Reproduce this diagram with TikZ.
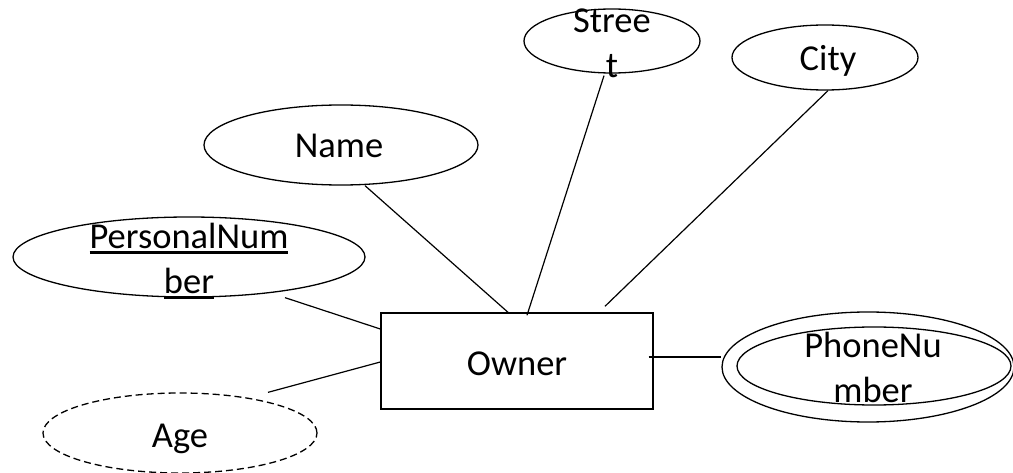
\documentclass[tikz,border=0pt]{standalone}
\usepackage{fontspec}
\setmainfont{Carlito}
\usetikzlibrary{shapes.geometric}
% underline drawn as a thick rule a little under the baseline
\newsavebox\ulbox
\newcommand{\ulword}[1]{\sbox\ulbox{#1}\rlap{\rule[-5.5pt]{\wd\ulbox}{3pt}}\usebox\ulbox}
\begin{document}
\begin{tikzpicture}[x=1pt,y=-1pt,
  attr/.style={draw, ellipse, line width=1.3pt, inner sep=0pt},
  entity/.style={draw, rectangle, line width=1.4pt, inner sep=0pt},
  lbl/.style={font=\fontsize{36.5}{45}\selectfont, inner sep=0pt, align=center, anchor=base},
  link/.style={line width=1.2pt}]
\useasboundingbox (0,0) rectangle (1013,473);

% entity
\node[entity, minimum width=272pt, minimum height=96pt] (owner) at (517,361) {};
\node[lbl] (owner-text) at (517,375) {Owner};

% attributes (text nodes are placed on the baseline of their last line)
\node[attr, minimum width=352pt, minimum height=80pt] (pn) at (189,257) {};
\node[lbl] (pn-text) at (189,294) {\ulword{PersonalNum}\\\ulword{ber}};

\node[attr, minimum width=274pt, minimum height=80pt] (name) at (341,145) {};
\node[lbl] (name-text) at (339,158) {Name};

\node[attr, minimum width=176pt, minimum height=64pt] (street) at (612,41) {};
\node[lbl] (street-text) at (612,78) {Stree\\t};

\node[attr, minimum width=186pt, minimum height=65pt] (city) at (825,57.5) {};
\node[lbl] (city-text) at (828,71) {City};

\node[attr, dash pattern=on 7pt off 4pt, minimum width=274pt, minimum height=80pt] (age) at (180,433) {};
\node[lbl] (age-text) at (180,447) {Age};

% multivalued attribute: double ellipse
\node[attr, minimum width=292pt, minimum height=110pt] (phone) at (868,367) {};
\node[attr, minimum width=274pt, minimum height=78pt] (phone-in) at (874,366) {};
\node[lbl] (phone-text) at (873,402) {PhoneNu\\mber};

% connectors
\draw[link] ([xshift=96pt]pn.south) -- ([yshift=32pt]owner.west);
\draw[link] ([xshift=88pt]age.north) -- ([yshift=-1pt]owner.west);
\draw[link] ([xshift=24pt]name.south) -- ([xshift=-9pt]owner.north);
\draw[link] ([xshift=-8pt,yshift=-2pt]street.south) -- ([xshift=10pt,yshift=-3pt]owner.north);
\draw[link] ([xshift=3pt]city.south) -- ([xshift=88pt,yshift=6pt]owner.north);
\draw[link] ([xshift=-5pt,yshift=4pt]owner.east) -- ([yshift=10pt]phone.west);
\end{tikzpicture}
\end{document}
